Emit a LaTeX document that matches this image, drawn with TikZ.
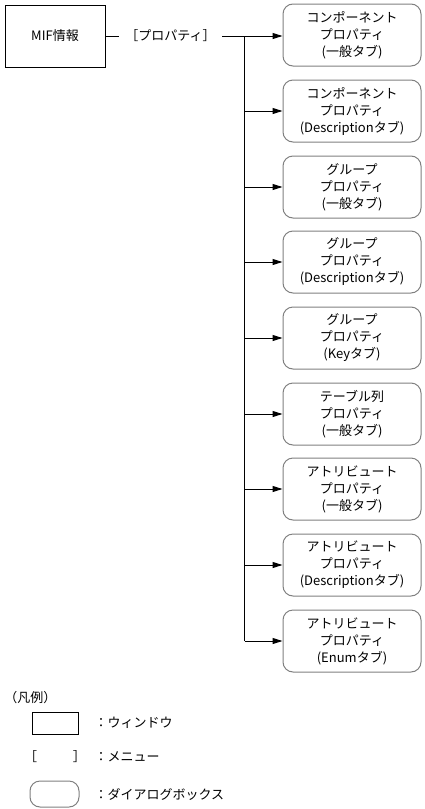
\documentclass[tikz,border=0pt]{standalone}
\usepackage{fontspec}
\setmainfont{Noto Sans CJK JP}
\usepackage{xcolor}
\usetikzlibrary{arrows.meta}
\definecolor{dlgline}{HTML}{808080}

\begin{document}
\begin{tikzpicture}[x=1pt, y=-1pt, line width=1pt, font=\fontsize{13}{17}\selectfont,
    window/.style={draw, black, minimum width=100pt, minimum height=62pt},
    dialog/.style={draw=dlgline, rounded corners=10pt, align=center,
      minimum width=138pt, minimum height=62pt, inner sep=0pt},
    branch/.style={-{Triangle[length=10pt, width=6pt]}}]
  \useasboundingbox (0,0) rectangle (424,809);
  \node[window] (mif) at (55,36) {MIF情報};
  \node[inner xsep=6pt, inner ysep=0pt] (menu) at (170.5,36) {［プロパティ］};
  \coordinate (br) at (244.5,36);
  \node[dialog] (d1) at (352,35) {コンポーネント\\プロパティ\\(一般タブ)};
  \node[dialog] (d2) at (352,111) {コンポーネント\\プロパティ\\(Descriptionタブ)};
  \node[dialog] (d3) at (352,187) {グループ\\プロパティ\\(一般タブ)};
  \node[dialog] (d4) at (352,262) {グループ\\プロパティ\\(Descriptionタブ)};
  \node[dialog] (d5) at (352,338) {グループ\\プロパティ\\(Keyタブ)};
  \node[dialog] (d6) at (352,414) {テーブル列\\プロパティ\\(一般タブ)};
  \node[dialog] (d7) at (352,489) {アトリビュート\\プロパティ\\(一般タブ)};
  \node[dialog] (d8) at (352,565) {アトリビュート\\プロパティ\\(Descriptionタブ)};
  \node[dialog] (d9) at (352,641) {アトリビュート\\プロパティ\\(Enumタブ)};
  \draw (mif) -- (menu);
  \draw (menu) -- (br) -- (br |- d9);
  \draw[branch] (br) -- (d1.west |- br);
  \draw[branch] (br |- d2) -- (d2);
  \draw[branch] (br |- d3) -- (d3);
  \draw[branch] (br |- d4) -- (d4);
  \draw[branch] (br |- d5) -- (d5);
  \draw[branch] (br |- d6) -- (d6);
  \draw[branch] (br |- d7) -- (d7);
  \draw[branch] (br |- d8) -- (d8);
  \draw[branch] (br |- d9) -- (d9);
  % legend
  \node[anchor=west, inner sep=0pt] (legend) at (4,698) {（凡例）};
  \node[draw, minimum width=46pt, minimum height=22pt] (lwin) at (55,723) {};
  \node[inner sep=0pt] (lmenu) at (55,757) {［\hspace{36pt}］};
  \node[draw=dlgline, rounded corners=10pt, minimum width=49pt, minimum height=26pt] (ldlg) at (54.5,794) {};
  \node[anchor=west, inner sep=0pt] (twin) at (94,723) {：ウィンドウ};
  \node[anchor=west, inner sep=0pt] (tmenu) at (94,757) {：メニュー};
  \node[anchor=west, inner sep=0pt] (tdlg) at (94,794) {：ダイアログボックス};
\end{tikzpicture}
\end{document}
